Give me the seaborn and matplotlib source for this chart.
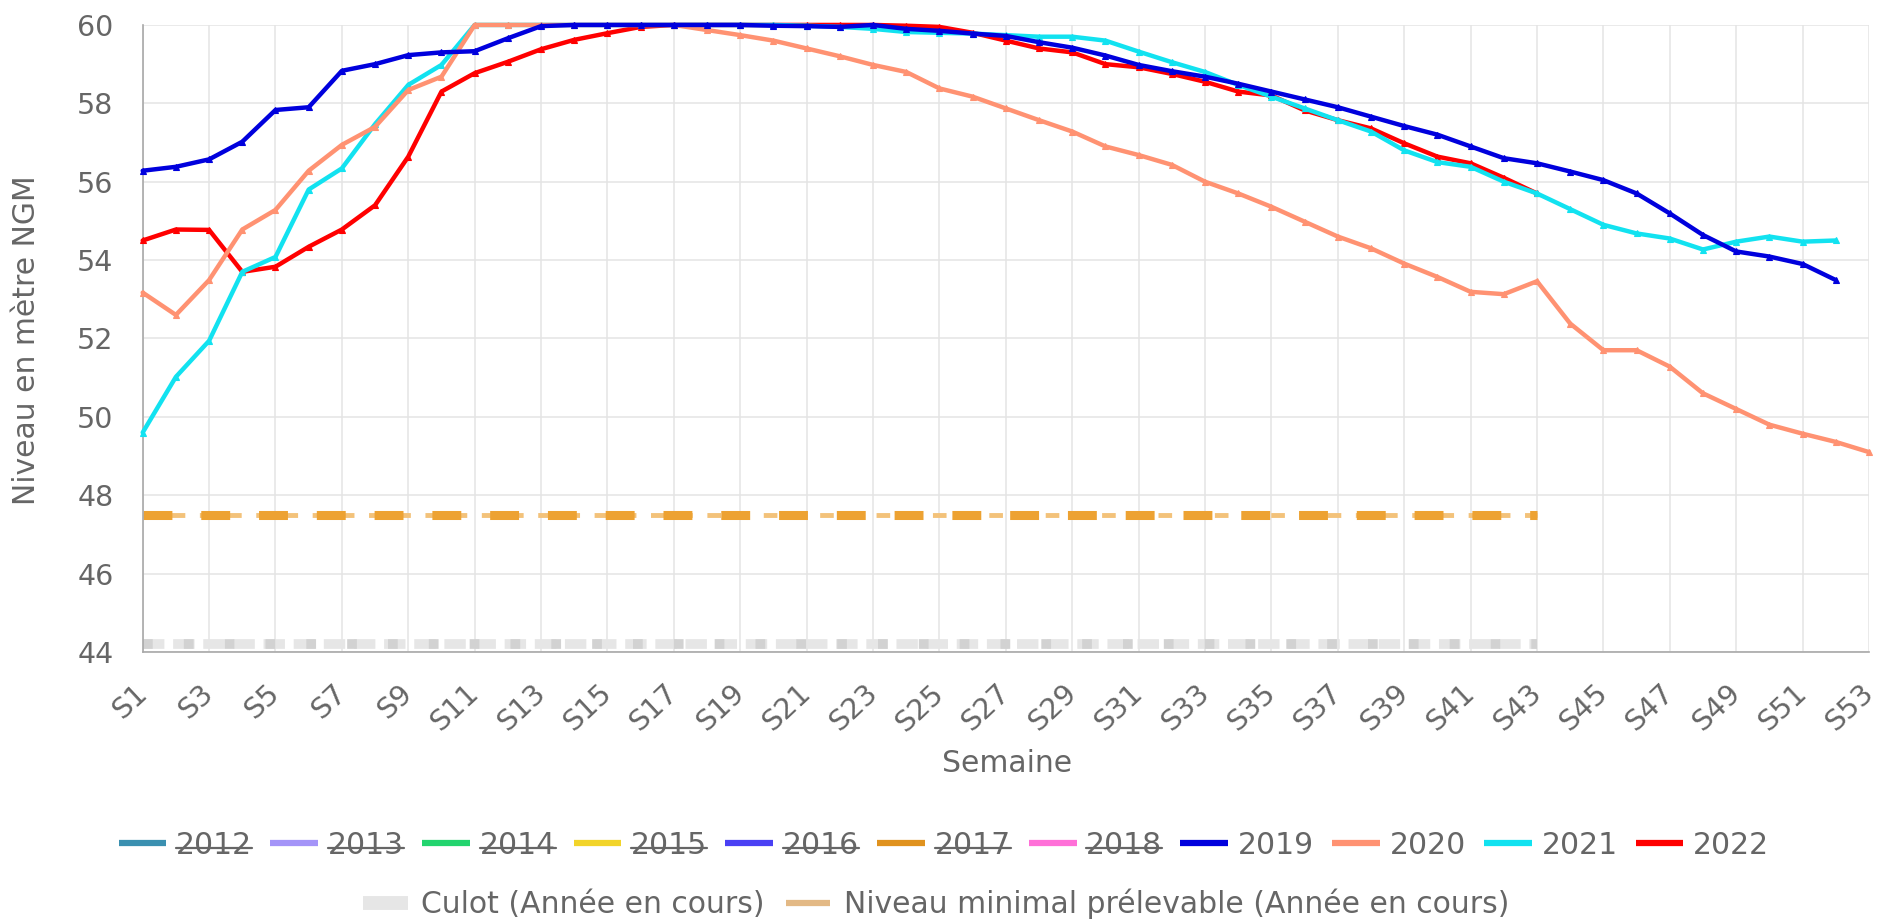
import matplotlib
matplotlib.use("Agg")
import matplotlib.pyplot as plt
from matplotlib.lines import Line2D
import pandas as pd
import seaborn as sns

# Weekly reservoir level (m NGM)
semaines = [f"S{i}" for i in range(1, 54)]

niveau_2019 = [56.28, 56.38, 56.57, 57.02, 57.83, 57.90, 58.83, 59.00, 59.23, 59.30,
               59.33, 59.66, 59.97, 60.00, 60.00, 60.00, 60.00, 60.00, 60.00, 59.98,
               59.97, 59.95, 60.00, 59.90, 59.85, 59.78, 59.72, 59.56, 59.42, 59.22,
               58.98, 58.82, 58.68, 58.50, 58.30, 58.10, 57.90, 57.66, 57.42, 57.20,
               56.90, 56.60, 56.47, 56.26, 56.04, 55.70, 55.19, 54.64, 54.22, 54.09,
               53.90, 53.49]
niveau_2020 = [53.17, 52.60, 53.49, 54.78, 55.28, 56.28, 56.94, 57.40, 58.34, 58.68,
               60.00, 60.00, 60.00, 60.00, 60.00, 60.00, 60.00, 59.87, 59.74, 59.60,
               59.40, 59.20, 58.98, 58.80, 58.38, 58.17, 57.87, 57.57, 57.28, 56.90,
               56.68, 56.43, 56.00, 55.70, 55.36, 54.98, 54.60, 54.30, 53.91, 53.57,
               53.19, 53.13, 53.46, 52.38, 51.70, 51.70, 51.28, 50.60, 50.20, 49.80,
               49.57, 49.36, 49.10]
niveau_2021 = [49.60, 51.02, 51.94, 53.70, 54.08, 55.80, 56.34, 57.47, 58.47, 58.98,
               60.00, 60.00, 60.00, 60.00, 60.00, 60.00, 60.00, 60.00, 60.00, 60.00,
               59.98, 59.95, 59.90, 59.82, 59.80, 59.78, 59.74, 59.70, 59.70, 59.60,
               59.32, 59.05, 58.80, 58.47, 58.17, 57.87, 57.57, 57.28, 56.80, 56.50,
               56.38, 56.00, 55.70, 55.30, 54.90, 54.68, 54.55, 54.27, 54.47, 54.60,
               54.47, 54.50]
niveau_2022 = [54.50, 54.78, 54.77, 53.70, 53.83, 54.34, 54.78, 55.40, 56.64, 58.30,
               58.77, 59.06, 59.38, 59.62, 59.79, 59.95, 60.00, 60.00, 60.00, 60.00,
               60.00, 60.00, 60.00, 59.98, 59.95, 59.80, 59.60, 59.40, 59.30, 59.00,
               58.92, 58.75, 58.55, 58.30, 58.20, 57.82, 57.57, 57.36, 56.98, 56.64,
               56.47, 56.10, 55.70]

niveau_min = 47.5      # Niveau minimal prélevable
culot = 44.2           # Culot
semaine_fin_courante = 43

annees = ["2012", "2013", "2014", "2015", "2016", "2017", "2018",
          "2019", "2020", "2021", "2022"]
couleurs = ["#3a90b0", "#a494f8", "#22d46e", "#f2d42a", "#4a40f4", "#e0921e",
            "#ff70d8", "#0000dd", "#ff9272", "#12e2f0", "#ff0000"]
masquees = ["2012", "2013", "2014", "2015", "2016", "2017", "2018"]

series = {"2019": niveau_2019, "2020": niveau_2020,
          "2021": niveau_2021, "2022": niveau_2022}

rows = []
for an, vals in series.items():
    for i, v in enumerate(vals):
        rows.append((an, i + 1, v))
df = pd.DataFrame(rows, columns=["annee", "semaine", "niveau"])
pal = dict(zip(annees, couleurs))

sns.set_theme(style="white")
plt.rcParams["font.family"] = ["DejaVu Sans"]
gris = "#666666"

fig = plt.figure(figsize=(18.85, 9.24), dpi=100)
ax = fig.add_axes([0.0757, 0.2944, 0.9158, 0.6786])

# reference lines for the current year
x_cur = list(range(1, semaine_fin_courante + 1))
ax.plot(x_cur, [culot] * len(x_cur), color="#e6e6e6", lw=7,
        dashes=(2.2, 0.9), solid_capstyle="butt", zorder=2)
ax.plot(x_cur, [culot] * len(x_cur), color="#d2d2d2", lw=7,
        dashes=(1.0, 3.2), zorder=2.1)
ax.plot(x_cur, [niveau_min] * len(x_cur), color="#f3c27a", lw=3.5,
        dashes=(2.8, 3.0), zorder=2.2)
ax.plot(x_cur, [niveau_min] * len(x_cur), color="#eda232", lw=6.5,
        dashes=(3.2, 3.2), zorder=2.3)

z = {"2019": 6, "2020": 5, "2021": 4, "2022": 3}
for an in ["2022", "2021", "2020", "2019"]:
    sns.lineplot(data=df[df.annee == an], x="semaine", y="niveau",
                 color=pal[an], lw=3.2, marker="^", ms=5, mec=pal[an], mew=0.8,
                 ax=ax, clip_on=False, zorder=z[an], legend=False)

ax.set_xlim(1, 53)
ax.set_ylim(44, 60)
ax.set_xticks(range(1, 54, 2))
ax.set_xticklabels(semaines[::2], rotation=43, ha="right", va="center",
                   rotation_mode="anchor", color=gris, fontsize=20.5)
ax.set_yticks(range(44, 61, 2))
ax.set_yticklabels([str(v) for v in range(44, 61, 2)], color=gris, fontsize=20.5)
ax.tick_params(axis="x", length=19, width=1.1, color="#e4e4e4", pad=8)
ax.tick_params(axis="y", length=19, width=1.1, color="#e4e4e4", pad=2)
ax.grid(True, color="#e4e4e4", lw=1.1)
ax.set_xlabel("")
ax.set_ylabel("")
for s in ["top", "right"]:
    ax.spines[s].set_visible(False)
for s in ["left", "bottom"]:
    ax.spines[s].set_color("#a8a8a8")
    ax.spines[s].set_linewidth(1.2)

fig.text(27 / 1885, 1 - 340 / 924, "Niveau en mètre NGM", rotation=90,
         ha="center", va="center", color=gris, fontsize=21.5)
fig.text(1007 / 1885, 1 - 764 / 924, "Semaine", ha="center", va="center",
         color=gris, fontsize=21.5)

handles = [Line2D([], [], color=c, lw=4.5, solid_capstyle="butt") for c in couleurs]
leg1 = fig.legend(handles, annees, loc="center", ncol=11, frameon=False,
                  bbox_to_anchor=(944 / 1885, 1 - 845 / 924), fontsize=21.5,
                  handlelength=1.6, handletextpad=0.33, columnspacing=0.6,
                  labelcolor=gris)
h2 = [Line2D([], [], color="#e6e6e6", lw=10, solid_capstyle="butt"),
      Line2D([], [], color="#e3b985", lw=4.5, solid_capstyle="butt")]
leg2 = fig.legend(h2, ["Culot (Année en cours)",
                       "Niveau minimal prélevable (Année en cours)"],
                  loc="center", ncol=2, frameon=False,
                  bbox_to_anchor=(936 / 1885, 1 - 904 / 924), fontsize=21.5,
                  handlelength=1.5, handletextpad=0.45, columnspacing=0.7,
                  labelcolor=gris)

# strike through the hidden years, like the original legend
fig.canvas.draw()
r = fig.canvas.get_renderer()
W, H = fig.canvas.get_width_height()
for t in leg1.get_texts():
    if t.get_text() in masquees:
        bb = t.get_window_extent(r)
        yy = (bb.y0 + 0.38 * bb.height) / H
        fig.add_artist(Line2D([bb.x0 / W, bb.x1 / W], [yy, yy],
                              color=gris, lw=1.6, transform=fig.transFigure))

fig.savefig("out.png", dpi=100)
